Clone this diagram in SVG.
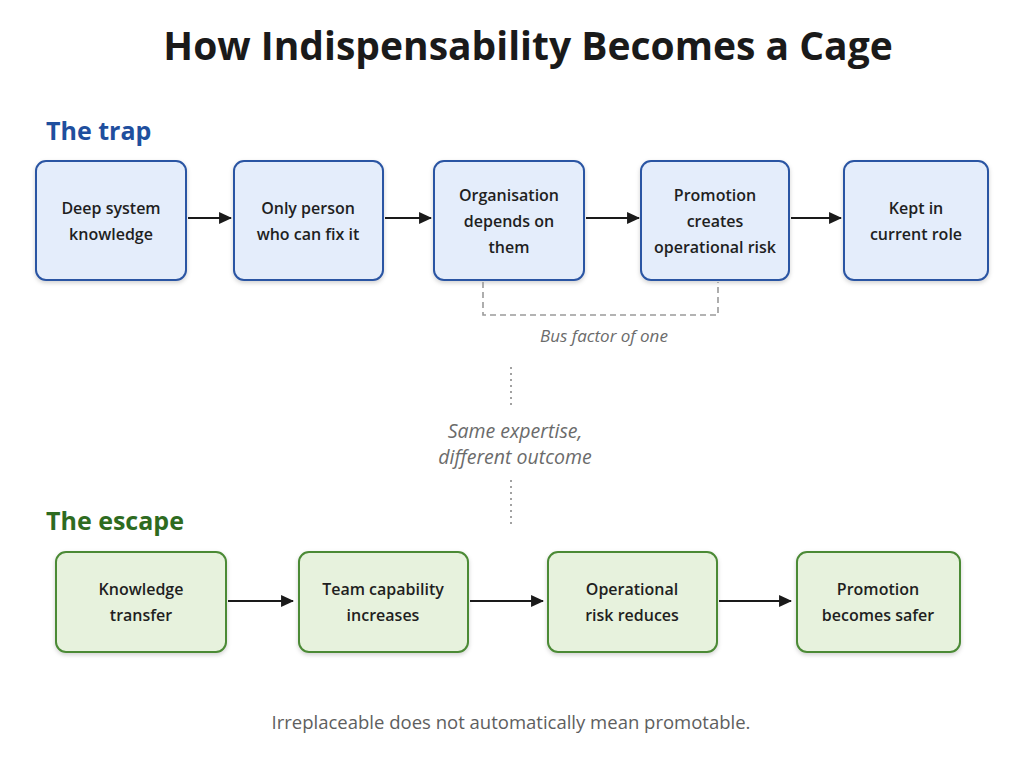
<svg xmlns="http://www.w3.org/2000/svg" width="1024" height="768" viewBox="0 0 1024 768">
<defs>
<marker id="ah" viewBox="0 0 12 12" refX="11" refY="6" markerWidth="13" markerHeight="13" markerUnits="userSpaceOnUse" orient="auto"><path d="M0,0.5 L12,6 L0,11.5 z" fill="#1a1a1a"/></marker>
<filter id="sh" x="-10%" y="-10%" width="120%" height="130%"><feDropShadow dx="0" dy="2" stdDeviation="2" flood-color="#000" flood-opacity="0.18"/></filter>
<style>
text{font-family:"Open Sans","Liberation Sans",sans-serif;}
.title{font-size:39px;font-weight:700;fill:#1a1a1a;text-anchor:middle;}
.sec{font-size:25px;font-weight:700;}
.blue rect{fill:#e4edfb;stroke:#2b55a3;stroke-width:2;filter:url(#sh);}
.green rect{fill:#e7f2dd;stroke:#4b8a36;stroke-width:2;filter:url(#sh);}
.lbl{font-size:16px;font-weight:600;fill:#1f1f1f;text-anchor:middle;}
.note{font-style:italic;fill:#6b6b6b;text-anchor:middle;}
.conn line{stroke:#1a1a1a;stroke-width:2.2;marker-end:url(#ah);}
</style>
</defs>
<rect width="1024" height="768" fill="#ffffff"/>
<text class="title" x="528" y="60">How Indispensability Becomes a Cage</text>
<text class="sec" x="46" y="140" fill="#1f4f9e">The trap</text>
<text class="sec" x="46" y="530" fill="#2e6b1f">The escape</text>

<g id="t1" class="blue"><rect x="36" y="161" width="150" height="119" rx="10"/><text class="lbl" x="111" y="214">Deep system</text><text class="lbl" x="111" y="240">knowledge</text></g>
<g id="t2" class="blue"><rect x="234" y="161" width="149" height="119" rx="10"/><text class="lbl" x="308" y="214">Only person</text><text class="lbl" x="308" y="240">who can fix it</text></g>
<g id="t3" class="blue"><rect x="434" y="161" width="150" height="119" rx="10"/><text class="lbl" x="509" y="201">Organisation</text><text class="lbl" x="509" y="227">depends on</text><text class="lbl" x="509" y="253">them</text></g>
<g id="t4" class="blue"><rect x="641" y="161" width="148" height="119" rx="10"/><text class="lbl" x="715" y="201">Promotion</text><text class="lbl" x="715" y="227">creates</text><text class="lbl" x="715" y="253">operational risk</text></g>
<g id="t5" class="blue"><rect x="844" y="161" width="144" height="119" rx="10"/><text class="lbl" x="916" y="214">Kept in</text><text class="lbl" x="916" y="240">current role</text></g>

<g id="e1" class="green"><rect x="56" y="552" width="170" height="100" rx="10"/><text class="lbl" x="141" y="595">Knowledge</text><text class="lbl" x="141" y="621">transfer</text></g>
<g id="e2" class="green"><rect x="299" y="552" width="169" height="100" rx="10"/><text class="lbl" x="383" y="595">Team capability</text><text class="lbl" x="383" y="621">increases</text></g>
<g id="e3" class="green"><rect x="548" y="552" width="169" height="100" rx="10"/><text class="lbl" x="632" y="595">Operational</text><text class="lbl" x="632" y="621">risk reduces</text></g>
<g id="e4" class="green"><rect x="797" y="552" width="163" height="100" rx="10"/><text class="lbl" x="878" y="595">Promotion</text><text class="lbl" x="878" y="621">becomes safer</text></g>

<g id="connectors" class="conn">
<line x1="188" y1="218" x2="231" y2="218"/>
<line x1="385" y1="218" x2="431" y2="218"/>
<line x1="586" y1="218" x2="639" y2="218"/>
<line x1="791" y1="218" x2="841" y2="218"/>
<line x1="228" y1="601" x2="293" y2="601"/>
<line x1="470" y1="601" x2="543" y2="601"/>
<line x1="719" y1="601" x2="791" y2="601"/>
</g>
<g id="bracket">
<path d="M483,282 V315 H718 V282" fill="none" stroke="#9a9a9a" stroke-width="1.6" stroke-dasharray="6,4"/>
<text class="note" x="604" y="342" style="font-size:17px">Bus factor of one</text>
</g>
<g id="divider">
<line x1="511" y1="367" x2="511" y2="408" stroke="#8a8a8a" stroke-width="1.6" stroke-dasharray="2,4"/>
<line x1="511" y1="480" x2="511" y2="528" stroke="#8a8a8a" stroke-width="1.6" stroke-dasharray="2,4"/>
<text class="note" x="515" y="438" style="font-size:19.5px">Same expertise,</text>
<text class="note" x="515" y="464" style="font-size:19.5px">different outcome</text>
</g>
<text x="511" y="729" font-size="18.5" fill="#5e5e5e" text-anchor="middle">Irreplaceable does not automatically mean promotable.</text>
</svg>
